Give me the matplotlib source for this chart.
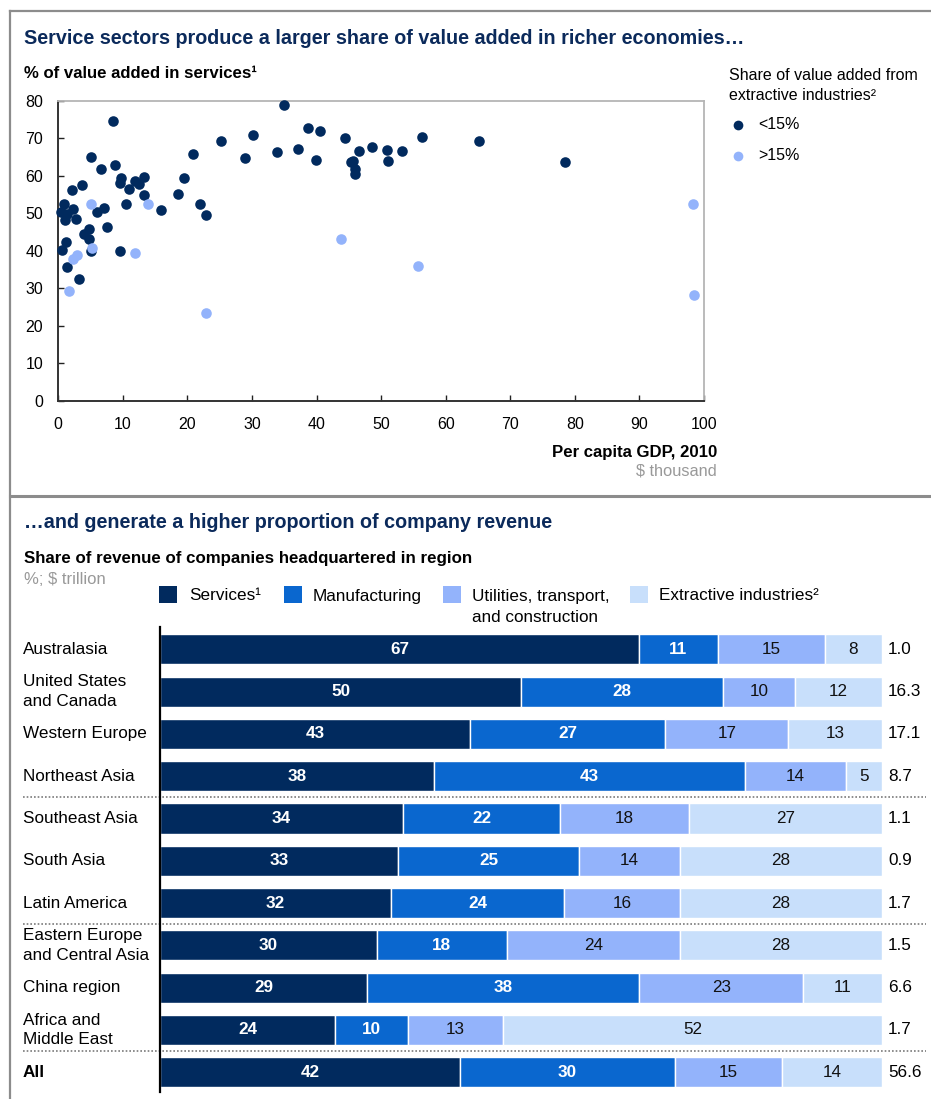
import matplotlib
matplotlib.use('Agg')
import matplotlib.pyplot as plt
import matplotlib.transforms as mtransforms
from matplotlib.lines import Line2D
from matplotlib.patches import Rectangle

plt.rcParams['font.family'] = ['Liberation Sans', 'DejaVu Sans']

# scatter data: per capita GDP ($ thousand) vs % value added in services
dark_x = [8.4, 25.2, 20.8, 5.0, 8.8, 6.6, 9.7, 9.5, 13.3, 11.9, 12.5, 19.4, 3.6, 2.1,
          11.0, 13.3, 18.5, 0.9, 10.5, 22.0, 2.3, 0.4, 6.0, 7.1, 15.9, 22.8, 1.1, 2.7,
          7.6, 4.7, 4.0, 4.8, 1.2, 0.5, 5.0, 9.5, 1.4, 3.2, 35.0, 30.1, 38.7, 40.6,
          44.4, 56.3, 65.2, 28.9, 33.8, 37.1, 39.9, 46.5, 48.6, 50.9, 53.3, 51.1,
          45.3, 45.7, 45.9, 45.9, 78.5, 1.3]
dark_y = [74.6, 69.3, 65.8, 65.1, 62.8, 61.7, 59.5, 58.1, 59.7, 58.6, 57.7, 59.4, 57.4, 56.2,
          56.5, 54.9, 55.1, 52.5, 52.4, 52.5, 51.2, 50.4, 50.4, 51.3, 50.9, 49.4, 48.2, 48.4,
          46.4, 45.7, 44.4, 43.0, 42.3, 40.2, 40.0, 40.0, 35.7, 32.4, 78.9, 70.9, 72.7, 71.9,
          70.1, 70.4, 69.2, 64.8, 66.3, 67.1, 64.3, 66.6, 67.7, 66.8, 66.6, 64.0,
          63.6, 64.0, 61.7, 60.4, 63.7, 49.9]
light_x = [5.0, 13.9, 5.2, 11.9, 2.9, 2.2, 1.7, 22.8, 43.8, 55.7, 98.3, 98.4]
light_y = [52.5, 52.5, 40.8, 39.3, 38.8, 37.7, 29.3, 23.4, 43.0, 35.9, 52.5, 28.2]

# bar data: share of revenue by sector (%), total revenue ($ trillion)
regions = ['Australasia', 'United States\nand Canada', 'Western Europe', 'Northeast Asia',
           'Southeast Asia', 'South Asia', 'Latin America', 'Eastern Europe\nand Central Asia',
           'China region', 'Africa and\nMiddle East', 'All']
services = [67, 50, 43, 38, 34, 33, 32, 30, 29, 24, 42]
manufacturing = [11, 28, 27, 43, 22, 25, 24, 18, 38, 10, 30]
utilities = [15, 10, 17, 14, 18, 14, 16, 24, 23, 13, 15]
extractive = [8, 12, 13, 5, 27, 28, 28, 28, 11, 52, 14]
totals = ['1.0', '16.3', '17.1', '8.7', '1.1', '0.9', '1.7', '1.5', '6.6', '1.7', '56.6']
sector_names = ['Services\u00b9', 'Manufacturing', 'Utilities, transport,\nand construction',
                'Extractive industries\u00b2']

NAVY = '#012a5e'
BLUE = '#0a67cf'
PERI = '#93b3fb'
PALE = '#c8dffb'
TITLE = '#0b2a5b'
GREY = '#999999'
sector_colors = [NAVY, BLUE, PERI, PALE]

W, H = 931, 1099
def fx(x):
    return x / W
def fy(y):
    return 1 - y / H

fig = plt.figure(figsize=(W / 100, H / 100), dpi=100)

# panel borders
fig.add_artist(Line2D([fx(9.5), fx(9.5)], [fy(11), 0], color='#8c8c8c', lw=1.6))
fig.add_artist(Line2D([fx(9.5), 1], [fy(11), fy(11)], color='#8c8c8c', lw=1.6))
fig.add_artist(Line2D([fx(9.5), 1], [fy(496), fy(496)], color='#8c8c8c', lw=2.2))

# ---------- top panel: scatter ----------
fig.text(fx(24), fy(38), 'Service sectors produce a larger share of value added in richer economies\u2026',
         fontsize=14.2, fontweight='bold', color=TITLE, va='center')
fig.text(fx(24), fy(74), '% of value added in services\u00b9', fontsize=12.1,
         fontweight='bold', color='black', va='center')

ax = fig.add_axes([fx(58.3), fy(400.7), (704 - 58.3) / W, 300 / H])
ax.scatter(dark_x, dark_y, s=58, color=NAVY, linewidths=0, zorder=3, clip_on=False)
ax.scatter(light_x, light_y, s=58, color=PERI, linewidths=0, zorder=4, clip_on=False)
ax.set_xlim(0, 100)
ax.set_ylim(0, 80)
ax.set_xticks(range(0, 101, 10))
ax.set_yticks(range(0, 81, 10))
ax.tick_params(direction='in', length=4, width=1, color='#222222', labelsize=11.5)
ax.tick_params(axis='x', pad=12)
ax.tick_params(axis='y', pad=11)
for side in ['left', 'bottom']:
    ax.spines[side].set_color('#333333')
    ax.spines[side].set_linewidth(1.4)
for side in ['top', 'right']:
    ax.spines[side].set_color('#b5b5b5')
    ax.spines[side].set_linewidth(1.3)

fig.text(fx(717), fy(453), 'Per capita GDP, 2010', fontsize=12.1, fontweight='bold',
         ha='right', va='center')
fig.text(fx(717), fy(471), '$ thousand', fontsize=11.8, color=GREY, ha='right', va='center')

# legend
fig.text(fx(729), fy(75), 'Share of value added from', fontsize=11.5, va='center')
fig.text(fx(729), fy(95), 'extractive industries\u00b2', fontsize=11.5, va='center')
for yy, col, lab in [(124.5, NAVY, '<15%'), (155.5, PERI, '>15%')]:
    fig.add_artist(Line2D([fx(738)], [fy(yy)], marker='o', markersize=7, color=col,
                          markeredgewidth=0, linestyle='none'))
    fig.text(fx(758), fy(yy), lab, fontsize=11.5, va='center')

# ---------- bottom panel: stacked bars ----------
fig.text(fx(24), fy(523), '\u2026and generate a higher proportion of company revenue',
         fontsize=14.2, fontweight='bold', color=TITLE, va='center')
fig.text(fx(24), fy(559), 'Share of revenue of companies headquartered in region',
         fontsize=12.2, fontweight='bold', va='center')
fig.text(fx(24), fy(579), '%; $ trillion', fontsize=12, color=GREY, va='center')

for sx, tx, col, name in zip([159, 284, 443, 630], [189, 313, 472, 659], sector_colors, sector_names):
    fig.add_artist(Rectangle((fx(sx), fy(603)), 18 / W, 17 / H, transform=fig.transFigure,
                             facecolor=col, edgecolor='none'))
    fig.text(fx(tx), fy(588.5), name, fontsize=12.3, va='top', linespacing=1.5)

bx = fig.add_axes([fx(160), fy(1092), 722 / W, 465 / H])
rows = list(range(len(regions)))
series = [services, manufacturing, utilities, extractive]
row_sums = [sum(v) for v in zip(*series)]
left = [0.0] * len(regions)
for k, (vals, col) in enumerate(zip(series, sector_colors)):
    widths = [v / s * 100 for v, s in zip(vals, row_sums)]
    bx.barh(rows, widths, left=left, height=0.71, color=col, edgecolor='white', linewidth=1)
    for r, (l, w, v) in enumerate(zip(left, widths, vals)):
        if k < 2:
            bx.text(l + w / 2, r, str(v), color='white', fontweight='bold', fontsize=12.3,
                    ha='center', va='center')
        else:
            bx.text(l + w / 2, r, str(v), color='#111111', fontsize=12.3,
                    ha='center', va='center')
    left = [l + w for l, w in zip(left, widths)]

bx.set_xlim(0, 100)
bx.set_ylim(len(regions) - 1 + 0.466, -0.527)
bx.set_xticks([])
bx.set_yticks([])
for side in ['top', 'right', 'bottom']:
    bx.spines[side].set_visible(False)
bx.spines['left'].set_color('black')
bx.spines['left'].set_linewidth(1.6)

trans = mtransforms.blended_transform_factory(fig.transFigure, bx.transData)
for r, (name, tot) in enumerate(zip(regions, totals)):
    bx.text(fx(23), r, name, transform=trans, fontsize=12.3, va='center', ha='left',
            fontweight='bold' if name == 'All' else 'normal', linespacing=1.4)
    bx.text(fx(888), r, tot, transform=trans, fontsize=12.3, va='center', ha='left')

for yd in [3.5, 6.5, 9.5]:
    bx.plot([fx(23), fx(926)], [yd, yd], transform=trans, color='#7a7a7a', lw=1.2,
            linestyle=(0, (1, 1.2)), clip_on=False)

fig.savefig('out.png', dpi=100)
